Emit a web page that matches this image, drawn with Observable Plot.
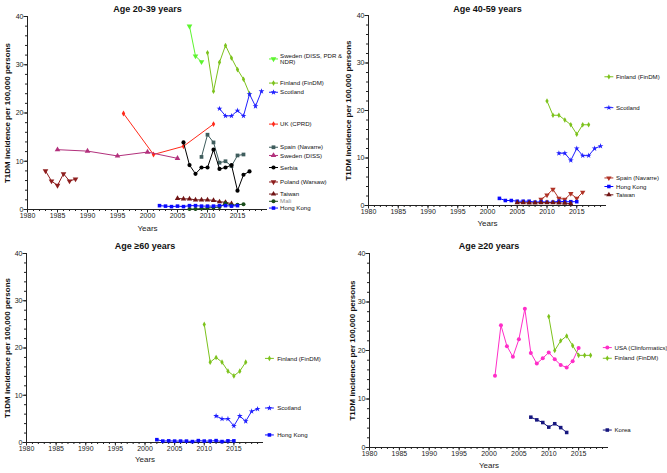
<!DOCTYPE html>
<html><head><meta charset="utf-8">
<script src="https://cdn.jsdelivr.net/npm/d3@7"></script>
<script src="https://cdn.jsdelivr.net/npm/@observablehq/plot@0.6"></script>
<style>
body{margin:0;background:#fff}
#c{position:relative;width:667px;height:473px;overflow:hidden;background:#fff;font-family:"Liberation Sans",Arial,sans-serif}
#c svg{position:absolute;overflow:visible}
</style>
</head><body><div id="c"></div>
<script>
// ---------- Tick labels ----------
const xTickLabels = [1980, 1985, 1990, 1995, 2000, 2005, 2010, 2015];
const yTickLabels = [0, 10, 20, 30, 40];
const yLabel = "T1DM incidence per 100,000 persons";
const xLabel = "Years";

// ---------- Age 20-39 years ----------
const a1_sweNDR_years = [2007, 2008, 2009];
const a1_sweNDR_vals  = [38.0, 31.8, 30.6];
const a1_fin_years = [2010, 2011, 2012, 2013, 2014, 2015, 2016, 2017];
const a1_fin_vals  = [32.5, 24.5, 30.5, 34.0, 31.4, 29.0, 27.0, 24.0];
const a1_sco_years = [2012, 2013, 2014, 2015, 2016, 2017, 2018, 2019];
const a1_sco_vals  = [20.9, 19.4, 19.4, 20.5, 19.4, 23.9, 21.4, 24.5];
const a1_uk_years = [1996, 2001, 2006, 2011];
const a1_uk_vals  = [19.9, 11.4, 13.1, 17.7];
const a1_spa_years = [2009, 2010, 2011, 2012, 2013, 2014, 2015, 2016];
const a1_spa_vals  = [10.9, 15.5, 13.9, 9.7, 10.0, 9.0, 11.2, 11.4];
const a1_sweDISS_years = [1985, 1990, 1995, 2000, 2005];
const a1_sweDISS_vals  = [12.4, 12.1, 11.1, 11.9, 10.6];
const a1_ser_years = [2006, 2007, 2008, 2009, 2010, 2011, 2012, 2013, 2014, 2015, 2016, 2017];
const a1_ser_vals  = [13.9, 9.2, 7.4, 8.7, 8.7, 12.4, 8.4, 8.7, 9.2, 3.9, 7.2, 7.9];
const a1_pol_years = [1983, 1984, 1985, 1986, 1987, 1988];
const a1_pol_vals  = [8.0, 5.9, 5.0, 7.4, 5.9, 6.3];
const a1_tai_years = [2005, 2006, 2007, 2008, 2009, 2010, 2011, 2012, 2013, 2014];
const a1_tai_vals  = [2.3, 2.2, 2.2, 2.0, 2.0, 2.0, 1.9, 1.6, 1.5, 1.2];
const a1_mali_years = [2007, 2008, 2009, 2010, 2011, 2012, 2013, 2014, 2015, 2016];
const a1_mali_vals  = [0.1, 0.1, 0.2, 0.3, 0.4, 0.5, 1.3, 0.9, 1.0, 1.1];
const a1_hk_years = [2002, 2003, 2004, 2005, 2006, 2007, 2008, 2009, 2010, 2011, 2012, 2013, 2014, 2015];
const a1_hk_vals  = [0.8, 0.7, 0.6, 0.7, 0.6, 0.8, 0.8, 0.7, 0.7, 0.7, 0.8, 0.8, 0.7, 0.8];

// ---------- Age 40-59 years ----------
const a2_fin_years = [2010, 2011, 2012, 2013, 2014, 2015, 2016, 2017];
const a2_fin_vals  = [22.0, 19.0, 19.0, 18.0, 17.0, 15.0, 17.0, 17.0];
const a2_sco_years = [2012, 2013, 2014, 2015, 2016, 2017, 2018, 2019];
const a2_sco_vals  = [11.0, 11.0, 9.5, 12.0, 10.5, 10.5, 12.0, 12.5];
const a2_spa_years = [2009, 2010, 2011, 2012, 2013, 2014, 2015, 2016];
const a2_spa_vals  = [1.3, 2.2, 3.4, 1.5, 1.3, 2.5, 1.5, 2.8];
const a2_hk_years = [2002, 2003, 2004, 2005, 2006, 2007, 2008, 2009, 2010, 2011, 2012, 2013, 2014, 2015];
const a2_hk_vals  = [1.5, 1.05, 1.05, 0.9, 0.9, 0.9, 0.7, 0.8, 0.7, 0.7, 0.9, 0.8, 0.8, 0.8];
const a2_tai_years = [2005, 2006, 2007, 2008, 2009, 2010, 2011, 2012, 2013, 2014];
const a2_tai_vals  = [0.6, 0.6, 0.55, 0.55, 0.6, 0.6, 0.6, 0.55, 0.5, 0.4];

// ---------- Age >=60 years ----------
const a3_fin_years = [2010, 2011, 2012, 2013, 2014, 2015, 2016, 2017];
const a3_fin_vals  = [25.0, 17.0, 18.0, 17.0, 15.1, 14.1, 15.1, 17.0];
const a3_sco_years = [2012, 2013, 2014, 2015, 2016, 2017, 2018, 2019];
const a3_sco_vals  = [5.6, 5.0, 5.0, 3.5, 5.6, 4.5, 6.6, 7.1];
const a3_hk_years = [2002, 2003, 2004, 2005, 2006, 2007, 2008, 2009, 2010, 2011, 2012, 2013, 2014, 2015];
const a3_hk_vals  = [0.6, 0.3, 0.35, 0.3, 0.3, 0.3, 0.2, 0.4, 0.3, 0.3, 0.4, 0.2, 0.35, 0.35];

// ---------- Age >=20 years ----------
const a4_usa_years = [2001, 2002, 2003, 2004, 2005, 2006, 2007, 2008, 2009, 2010, 2011, 2012, 2013, 2014, 2015];
const a4_usa_vals  = [14.8, 25.2, 20.9, 18.7, 22.3, 28.6, 19.5, 17.3, 18.4, 19.6, 18.2, 17.0, 16.5, 17.8, 20.5];
const a4_fin_years = [2010, 2011, 2012, 2013, 2014, 2015, 2016, 2017];
const a4_fin_vals  = [27.0, 20.0, 22.0, 23.0, 21.0, 19.0, 19.0, 19.0];
const a4_kor_years = [2007, 2008, 2009, 2010, 2011, 2012, 2013];
const a4_kor_vals  = [6.25, 5.7, 5.15, 4.2, 4.9, 4.1, 3.1];

// ---------- Styles ----------
const ST = {
  sweNDR:  {color: "#5cf52e", symbol: "triangle", rotate: 180, r: 2.1},
  fin:     {color: "#7cc21c", symbol: "diamond", r: 1.7},
  sco:     {color: "#1f1fff", symbol: "star", r: 1.8},
  uk:      {color: "#ff2a1a", symbol: "diamond", r: 1.8},
  spa1:    {color: "#3f5d5d", symbol: "square", r: 2.1},
  sweDISS: {color: "#b2307c", symbol: "triangle", r: 2.1},
  ser:     {color: "#000000", symbol: "circle", r: 2.1},
  pol:     {color: "#8e1e1e", symbol: "triangle", rotate: 180, r: 2.1},
  tai:     {color: "#701414", symbol: "triangle", r: 2.0},
  mali:    {color: "#1b4d1b", symbol: "circle", r: 2.0},
  hk:      {color: "#0a0aff", symbol: "square", r: 2.0},
  spa2:    {color: "#b03326", symbol: "triangle", rotate: 180, r: 2.0},
  usa:     {color: "#ff2ec8", symbol: "circle", r: 2.0},
  kor:     {color: "#16167e", symbol: "square", r: 2.0}
};

function S(years, vals, st) { return {years, vals, ...st}; }

const panels = [
  {
    title: "Age 20-39 years", left: 0, top: 0, width: 340, height: 236,
    m: {l: 27, r: 73, t: 16, b: 27}, titleDy: -11, yLabDx: -20, xLabDy: 21,
    legX: 2021, legTX: 2022.1,
    series: [
      S(a1_sweNDR_years, a1_sweNDR_vals, ST.sweNDR),
      S(a1_fin_years, a1_fin_vals, ST.fin),
      S(a1_sco_years, a1_sco_vals, ST.sco),
      S(a1_uk_years, a1_uk_vals, ST.uk),
      S(a1_spa_years, a1_spa_vals, ST.spa1),
      S(a1_sweDISS_years, a1_sweDISS_vals, ST.sweDISS),
      S(a1_ser_years, a1_ser_vals, ST.ser),
      S(a1_pol_years, a1_pol_vals, ST.pol),
      S(a1_tai_years, a1_tai_vals, ST.tai),
      S(a1_mali_years, a1_mali_vals, ST.mali),
      S(a1_hk_years, a1_hk_vals, ST.hk)
    ],
    legend: [
      {label: "Sweden (DISS, PDR &\nNDR)", y: 31.2, ...ST.sweNDR},
      {label: "Finland (FinDM)", y: 26.2, ...ST.fin},
      {label: "Scotland", y: 24.3, ...ST.sco},
      {label: "UK (CPRD)", y: 17.7, ...ST.uk},
      {label: "Spain (Navarre)", y: 12.9, ...ST.spa1},
      {label: "Sweden (DISS)", y: 11.2, ...ST.sweDISS},
      {label: "Serbia", y: 8.7, ...ST.ser},
      {label: "Poland (Warsaw)", y: 5.7, ...ST.pol},
      {label: "Taiwan", y: 3.2, ...ST.tai},
      {label: "Mali", y: 1.7, ...ST.mali, textColor: "#8a8a8a"},
      {label: "Hong Kong", y: 0.3, ...ST.hk}
    ]
  },
  {
    title: "Age 40-59 years", left: 340, top: 0, width: 327, height: 236,
    m: {l: 28, r: 61, t: 15, b: 31}, titleDy: -10, yLabDx: -20, xLabDy: 20,
    legX: 2020.4, legTX: 2021.6,
    series: [
      S(a2_fin_years, a2_fin_vals, ST.fin),
      S(a2_sco_years, a2_sco_vals, ST.sco),
      S(a2_spa_years, a2_spa_vals, ST.spa2),
      S(a2_hk_years, a2_hk_vals, ST.hk),
      S(a2_tai_years, a2_tai_vals, ST.tai)
    ],
    legend: [
      {label: "Finland (FinDM)", y: 27.1, ...ST.fin},
      {label: "Scotland", y: 20.6, ...ST.sco},
      {label: "Spain (Navarre)", y: 5.8, ...ST.spa2},
      {label: "Hong Kong", y: 4.0, ...ST.hk},
      {label: "Taiwan", y: 2.25, ...ST.tai}
    ]
  },
  {
    title: "Age \u226560 years", left: 0, top: 236, width: 340, height: 237,
    m: {l: 26, r: 77, t: 17, b: 31}, titleDy: -11, yLabDx: -19, xLabDy: 19,
    legX: 2021, legTX: 2022.3,
    series: [
      S(a3_fin_years, a3_fin_vals, ST.fin),
      S(a3_sco_years, a3_sco_vals, ST.sco),
      S(a3_hk_years, a3_hk_vals, ST.hk)
    ],
    legend: [
      {label: "Finland (FinDM)", y: 17.8, ...ST.fin},
      {label: "Scotland", y: 7.3, ...ST.sco},
      {label: "Hong Kong", y: 1.6, ...ST.hk}
    ]
  },
  {
    title: "Age \u226520 years", left: 340, top: 236, width: 327, height: 237,
    m: {l: 29, r: 59, t: 17, b: 26}, titleDy: -11, yLabDx: -17, xLabDy: 20,
    legX: 2019.8, legTX: 2021,
    series: [
      S(a4_usa_years, a4_usa_vals, ST.usa),
      S(a4_fin_years, a4_fin_vals, ST.fin),
      S(a4_kor_years, a4_kor_vals, ST.kor)
    ],
    legend: [
      {label: "USA (Clinformatics)", y: 20.6, ...ST.usa},
      {label: "Finland (FinDM)", y: 18.4, ...ST.fin},
      {label: "Korea", y: 3.6, ...ST.kor}
    ]
  }
];

const AX = "#222";
const FONT = "Liberation Sans, Arial, sans-serif";

function makePanel(p) {
  const marks = [];
  // axes
  marks.push(Plot.axisX({ticks: d3.range(1980, 2020, 1), tickSize: 2, tickFormat: () => "", label: null, stroke: AX}));
  marks.push(Plot.axisX({ticks: xTickLabels, tickSize: 3.5, tickPadding: 0.5, tickFormat: "d", label: null, fontSize: 7, fill: AX, stroke: AX}));
  marks.push(Plot.axisY({ticks: d3.range(0, 41, 2), tickSize: 2, tickFormat: () => "", label: null, stroke: AX}));
  marks.push(Plot.axisY({ticks: yTickLabels, tickSize: 3.5, tickPadding: 0.5, tickFormat: "d", label: null, fontSize: 7, fill: AX, stroke: AX}));
  marks.push(Plot.ruleY([0], {stroke: AX, strokeWidth: 1}));
  marks.push(Plot.ruleX([1980], {stroke: AX, strokeWidth: 1}));
  // texts
  marks.push(Plot.text([p.title], {frameAnchor: "top", dy: p.titleDy, text: d => d, fontWeight: "bold", fontSize: 9, fill: "#111"}));
  marks.push(Plot.text([yLabel], {frameAnchor: "left", textAnchor: "middle", rotate: -90, dx: p.yLabDx, text: d => d, fontWeight: "bold", fontSize: 8, fill: "#111"}));
  marks.push(Plot.text([xLabel], {frameAnchor: "bottom", dy: p.xLabDy, text: d => d, fontSize: 8, fill: "#222"}));
  // series
  for (const s of p.series) {
    const data = s.years.map((x, i) => ({x, y: s.vals[i]}));
    marks.push(Plot.line(data, {x: "x", y: "y", stroke: s.color, strokeWidth: 1}));
    marks.push(Plot.dot(data, {x: "x", y: "y", fill: s.color, symbol: s.symbol, r: s.r, rotate: s.rotate || 0}));
  }
  // legend
  for (const e of p.legend) {
    marks.push(Plot.link([e], {x1: () => p.legX - 0.75, x2: () => p.legX + 0.75, y1: d => d.y, y2: d => d.y, stroke: e.color, strokeWidth: 1}));
    marks.push(Plot.dot([e], {x: () => p.legX, y: d => d.y, fill: e.color, symbol: e.symbol, r: e.r, rotate: e.rotate || 0}));
    marks.push(Plot.text([e], {x: () => p.legTX, y: d => d.y, text: d => d.label, textAnchor: "start", fontSize: 6.1, fill: e.textColor || "#111", lineHeight: 1.1}));
  }
  const svg = Plot.plot({
    width: p.width, height: p.height,
    marginLeft: p.m.l, marginRight: p.m.r, marginTop: p.m.t, marginBottom: p.m.b,
    x: {domain: [1980, 2020]},
    y: {domain: [0, 40]},
    style: {background: "transparent", fontFamily: FONT, overflow: "visible"},
    marks
  });
  svg.style.left = p.left + "px";
  svg.style.top = p.top + "px";
  return svg;
}

const c = document.getElementById("c");
for (const p of panels) c.appendChild(makePanel(p));
</script>
</body></html>
